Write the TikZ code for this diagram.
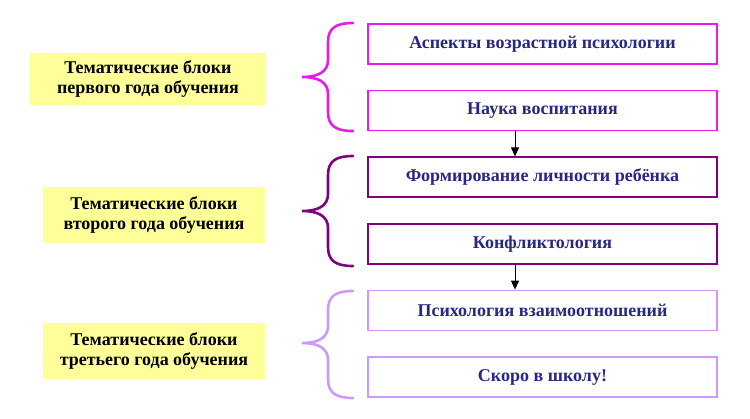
\documentclass[tikz,border=0pt]{standalone}
\usepackage{fontspec}
\setmainfont{Liberation Serif}
\usetikzlibrary{positioning,arrows.meta}
\definecolor{yearcol}{RGB}{255,255,153}
\definecolor{firstcol}{RGB}{232,28,232}
\definecolor{secondcol}{RGB}{128,0,128}
\definecolor{thirdcol}{RGB}{204,153,255}
\definecolor{topiccol}{RGB}{40,40,130}

\begin{document}
\begin{tikzpicture}[
  x=1pt, y=-1pt,
  node distance=25pt,
  every node/.style={font=\bfseries\fontsize{18}{20.5}\selectfont},
  year/.style={fill=yearcol, align=center, inner sep=0pt, minimum width=222pt, minimum height=56pt},
  topic/.style={draw, line width=1.6pt, fill=white, text=topiccol, inner sep=0pt, minimum width=349pt, minimum height=40pt},
  brace/.style={line width=2.6pt, line cap=round},
  arr/.style={-{Triangle[length=9pt,width=8pt]}, line width=0.9pt}
]
\useasboundingbox (0,0) rectangle (750,418);

% ---------------- left column: years ----------------
\node[year, minimum width=236pt, minimum height=52pt] (god1) at (148,79) {Тематические блоки\\первого года обучения};
\node[year] (god2) at (154,215) {Тематические блоки\\второго года обучения};
\node[year] (god3) at (154,351) {Тематические блоки\\третьего года обучения};

% ---------------- right column: topics ----------------
\node[topic, draw=firstcol] (aspekty) at (542.5,44) {Аспекты возрастной психологии};
\node[topic, draw=firstcol, below=of aspekty] (nauka) {Наука воспитания};
\node[topic, draw=secondcol, below=of nauka] (lichn) {Формирование личности ребёнка};
\node[topic, draw=secondcol, below=of lichn] (konfl) {Конфликтология};
\node[topic, draw=thirdcol, below=of konfl] (vzaim) {Психология взаимоотношений};
\node[topic, draw=thirdcol, below=of vzaim] (shkola) {Скоро в школу!};

% ---------------- braces ----------------
\foreach \c/\t/\m/\b in {firstcol/23/77/131, secondcol/156/211/266, thirdcol/291/343/398}
  \draw[brace, draw=\c] (353,\t) .. controls (336,\t) and (328,\t+5) .. (328,\t+19) -- (328,\m-17)
    .. controls (328,\m-5) and (318,\m) .. (302,\m) .. controls (318,\m) and (328,\m+5) .. (328,\m+17)
    -- (328,\b-19) .. controls (328,\b-5) and (336,\b) .. (353,\b);

% ---------------- arrows ----------------
\draw[arr] ([xshift=-27.5pt]nauka.south) -- ([xshift=-27.5pt]lichn.north);
\draw[arr] ([xshift=-27.5pt]konfl.south) -- ([xshift=-27.5pt]vzaim.north);

\end{tikzpicture}
\end{document}
